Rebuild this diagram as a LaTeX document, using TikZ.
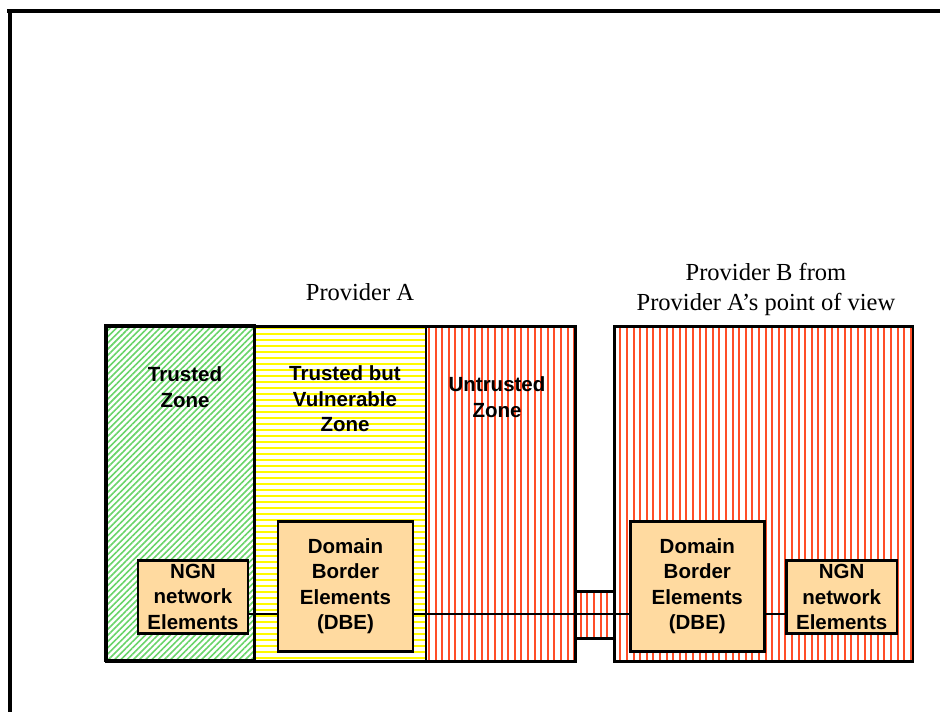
\documentclass[tikz,border=0pt]{standalone}
\usepackage{fontspec}
\setmainfont{Liberation Serif}
\setsansfont{Liberation Sans}
\usetikzlibrary{patterns.meta}
\definecolor{boxfill}{RGB}{255,218,160}
\definecolor{hatchgreen}{RGB}{105,212,105}
\definecolor{hatchyellow}{RGB}{255,250,0}
\definecolor{hatchred}{RGB}{255,78,40}
\tikzset{
  frameline/.style={line width=4pt, black},
  zone/.style={draw=black, line width=2.8pt, inner sep=0pt, anchor=north west, minimum height=335pt},
  greenzone/.style={zone, pattern={Lines[angle=45,distance=4.4pt,line width=1.6pt]}, pattern color=hatchgreen},
  yellowzone/.style={zone, pattern={Lines[angle=0,distance=6pt,line width=2pt]}, pattern color=hatchyellow},
  redzone/.style={zone, pattern={Lines[angle=90,distance=6.6pt,line width=2pt]}, pattern color=hatchred},
  outline/.style={draw=black, line width=2.8pt, inner sep=0pt, anchor=north west, minimum height=335pt},
  elem/.style={draw=black, line width=2.6pt, fill=boxfill, inner sep=0pt, anchor=north west, align=center,
    font=\sffamily\bfseries\fontsize{20.5}{25.5}\selectfont},
  zonelabel/.style={align=center, inner sep=0pt, font=\sffamily\bfseries\fontsize{20.5}{25.5}\selectfont},
  provlabel/.style={align=center, inner sep=0pt, font=\fontsize{24.5}{30}\selectfont},
  link/.style={line width=2.2pt, black}
}
\begin{document}
\begin{tikzpicture}[x=1pt, y=-1pt]
\useasboundingbox (0,0) rectangle (940,712);
% frame
\coordinate (ftl) at (7,11);
\coordinate (ftr) at (940,11);
\coordinate (fl1) at (10,9);
\coordinate (fl2) at (10,712);
\draw[frameline] (ftl) -- (ftr);
\draw[frameline] (fl1) -- (fl2);
% zones of provider A
\node[greenzone, minimum width=149pt] (tz) at (105,325) {};
\node[yellowzone, minimum width=171pt] (tvz) at (254,325) {};
\node[redzone, minimum width=149.5pt] (uz) at (425,325) {};
\node[outline, minimum width=469pt] (provA) at (105,325) {};
% provider B
\node[redzone, minimum width=298.5pt] (provB) at (613,325) {};
% link box between providers
\node[redzone, minimum width=39pt, minimum height=47pt] (linkbox) at (574,590) {};
% zone labels
\node[zonelabel] (tzl) at (185,387) {Trusted\\Zone};
\node[zonelabel] (tvzl) at (345,399) {Trusted but\\Vulnerable\\Zone};
\node[zonelabel] (uzl) at (497,397) {Untrusted\\Zone};
% provider labels
\node[provlabel] (pAl) at (360,292) {Provider A};
\node[provlabel] (pBl) at (766,289) {Provider B from\\Provider A’s point of view};
% elements
\node[elem, minimum width=110pt, minimum height=73pt] (ngnA) at (136.7,559) {NGN\\network\\Elements};
\node[elem, minimum width=135pt, minimum height=130pt] (dbeA) at (276.7,520) {Domain\\Border\\Elements\\(DBE)};
\node[elem, minimum width=134pt, minimum height=130pt] (dbeB) at (629,520) {Domain\\Border\\Elements\\(DBE)};
\node[elem, minimum width=110.7pt, minimum height=73pt] (ngnB) at (785,559.3) {NGN\\network\\Elements};
% connectors
\coordinate (ly) at (0,614);
\draw[link] (ngnA.east |- ly) -- (dbeA.west |- ly);
\draw[link] (dbeA.east |- ly) -- (dbeB.west |- ly);
\draw[link] (dbeB.east |- ly) -- (ngnB.west |- ly);
\end{tikzpicture}
\end{document}
